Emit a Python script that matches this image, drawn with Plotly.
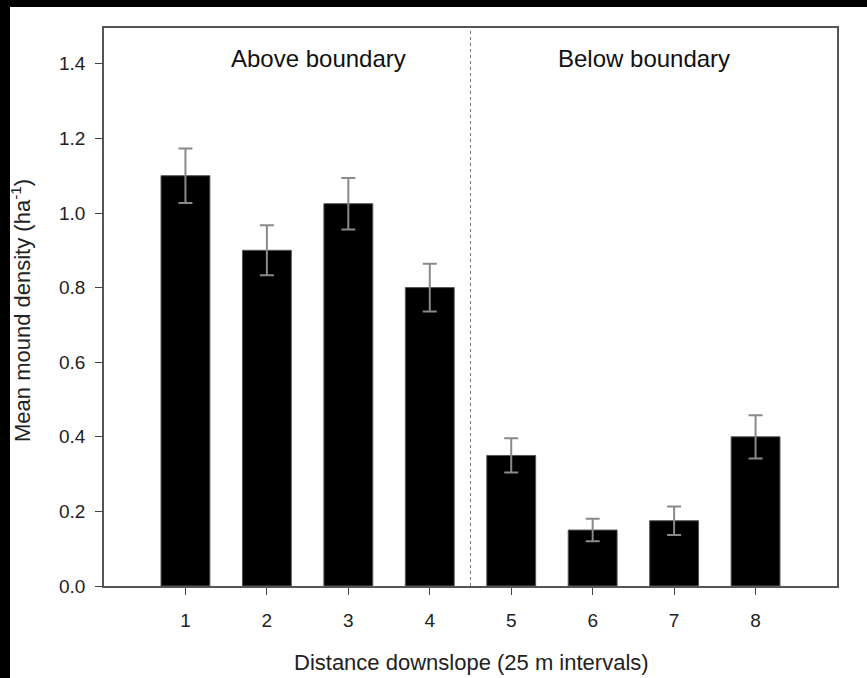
import plotly.graph_objects as go

# ---- data ----
categories = [1, 2, 3, 4, 5, 6, 7, 8]
mean_density = [1.10, 0.90, 1.025, 0.80, 0.35, 0.15, 0.175, 0.40]
std_error = [0.073, 0.067, 0.069, 0.064, 0.046, 0.030, 0.038, 0.058]
y_ticks = [0.0, 0.2, 0.4, 0.6, 0.8, 1.0, 1.2, 1.4]
boundary_x = 4.5
region_labels = ["Above boundary", "Below boundary"]
region_label_x = [2.63, 6.63]
region_label_y = 1.413

W, H = 867, 678
ML, MR, MT, MB = 104, 30, 28, 92
PW, PH = W - ML - MR, H - MT - MB

def px(x):
    return (x - ML) / PW

def py(y):
    return (H - MB - y) / PH

FONT = "Liberation Sans, Arial, sans-serif"

fig = go.Figure()
fig.add_trace(go.Bar(
    x=categories, y=mean_density, width=0.6,
    marker=dict(color="black", line=dict(color="#555555", width=1)),
    error_y=dict(type="data", array=std_error, visible=True,
                 color="#8a8a8a", thickness=2, width=7),
    showlegend=False,
))

shapes = [
    # boundary line
    dict(type="line", xref="x", yref="paper", x0=boundary_x, x1=boundary_x,
         y0=0, y1=1, line=dict(color="#777777", width=1, dash="dot")),
    # black frame strips of the image
    dict(type="rect", xref="paper", yref="paper", x0=px(0), x1=px(10),
         y0=py(H), y1=py(0), fillcolor="black", line=dict(width=0)),
    dict(type="rect", xref="paper", yref="paper", x0=px(0), x1=px(W),
         y0=py(7), y1=py(0), fillcolor="black", line=dict(width=0)),
]

annotations = [
    dict(x=region_label_x[i], y=region_label_y, xref="x", yref="y",
         xanchor="center", yanchor="middle",
         text=region_labels[i], showarrow=False,
         font=dict(family=FONT, size=24, color="#111111"))
    for i in range(2)
]
annotations.append(dict(
    x=px(21), y=py(311), xref="paper", yref="paper", textangle=-90,
    xanchor="center", yanchor="middle",
    text="Mean mound density (ha<sup>-1</sup>)", showarrow=False,
    font=dict(family=FONT, size=22, color="#222222")))
annotations.append(dict(
    x=px(471), y=py(662), xref="paper", yref="paper",
    xanchor="center", yanchor="middle",
    text="Distance downslope (25 m intervals)", showarrow=False,
    font=dict(family=FONT, size=22, color="#222222")))

fig.update_layout(
    width=W, height=H,
    margin=dict(l=ML, r=MR, t=MT, b=MB),
    paper_bgcolor="white", plot_bgcolor="white",
    font=dict(family=FONT, size=19, color="#222222"),
    shapes=shapes, annotations=annotations,
    xaxis=dict(range=[0, 9], tickvals=categories, ticks="outside", ticklen=7,
               tickcolor="#444444", showline=True, linecolor="#555555",
               linewidth=1.5, mirror=True, showgrid=False, zeroline=False,
               ticklabelstandoff=9),
    yaxis=dict(range=[0, 1.496], tickvals=y_ticks, tickformat=".1f",
               ticks="outside", ticklen=7, tickcolor="#444444",
               showline=True, linecolor="#555555", linewidth=1.5, mirror=True,
               showgrid=False, zeroline=False, ticklabelstandoff=6),
)

fig.write_html("out.html")
